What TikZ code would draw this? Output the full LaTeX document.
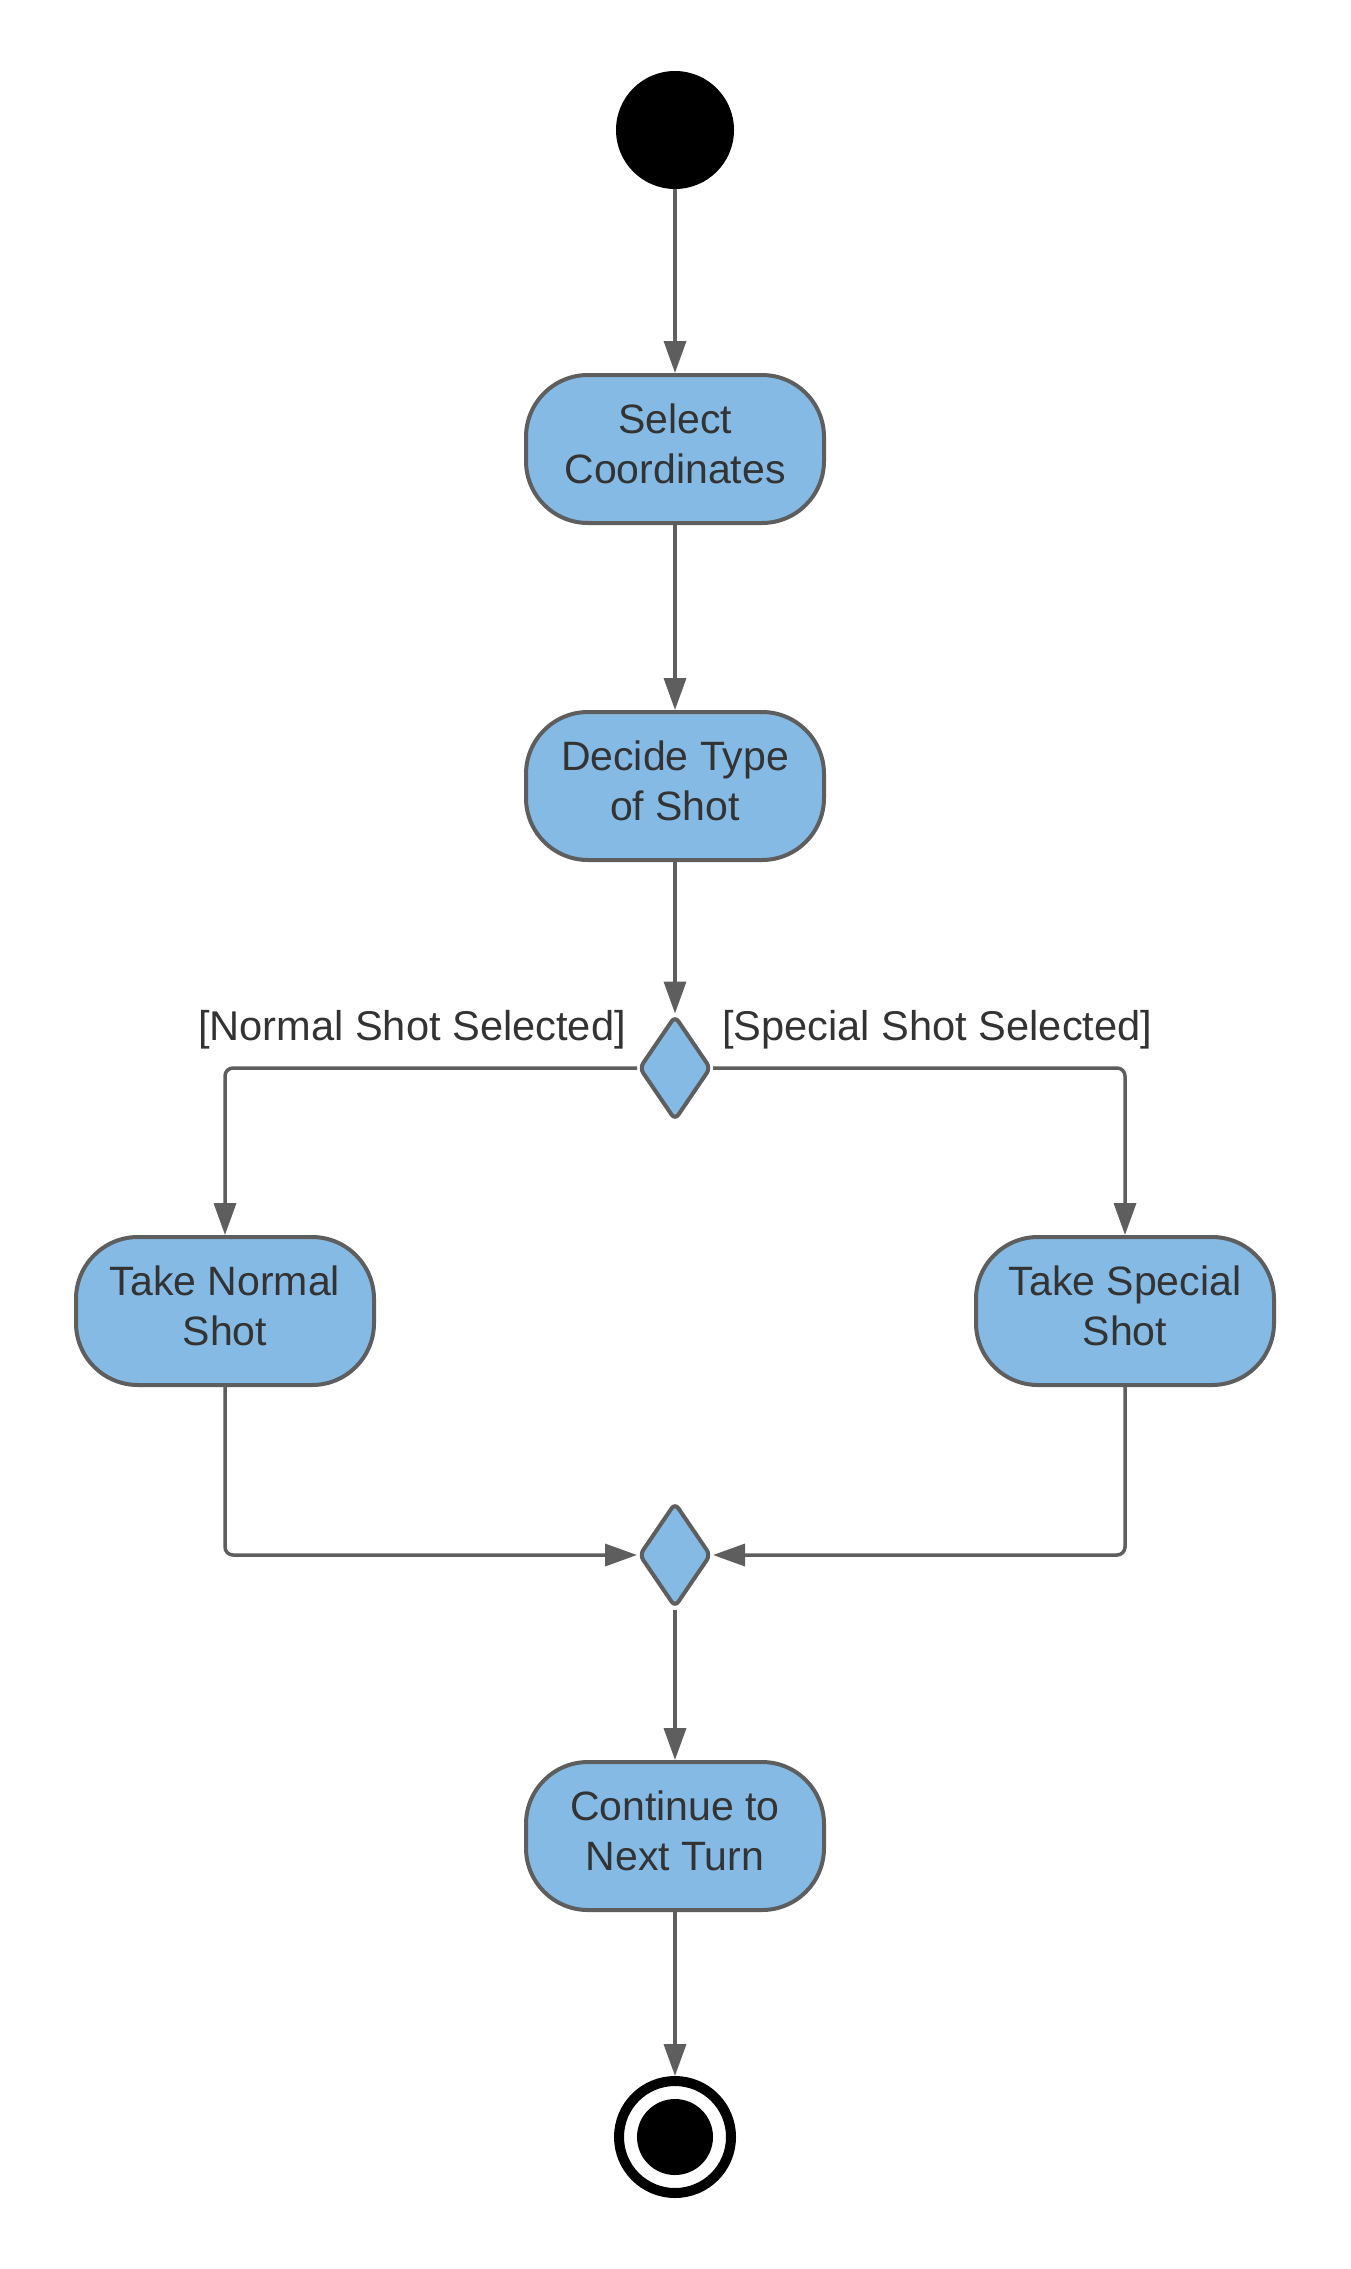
\documentclass[tikz,border=0pt]{standalone}
\usepackage{fontspec}
\setmainfont{Liberation Sans}
\usetikzlibrary{arrows.meta,shapes.geometric}
\definecolor{actfill}{HTML}{84BAE3}
\definecolor{edgegrey}{HTML}{5E5E5E}
\definecolor{txt}{HTML}{333333}
\newcommand\twolines[2]{\raisebox{1pt}[\height][\depth]{\begin{tabular}{@{}c@{}}#1\\#2\end{tabular}}}
\tikzset{
  act/.style={draw=edgegrey, fill=actfill, line width=4pt, rounded corners=62pt,
    minimum width=298pt, minimum height=148pt, align=center, text=txt,
    font=\fontsize{41}{50}\selectfont, inner sep=0pt},
  dec/.style={draw=edgegrey, fill=actfill, line width=4pt, diamond, inner sep=0pt,
    minimum width=72pt, minimum height=105pt, rounded corners=6pt},
  flow/.style={draw=edgegrey, line width=3.5pt, -{Triangle[length=32pt,width=22pt]}},
  branch/.style={flow, rounded corners=8pt},
  guard/.style={text=txt, font=\fontsize{41.6}{50}\selectfont, inner sep=0pt}
}
\begin{document}
\begin{tikzpicture}[x=1pt,y=-1pt]
\useasboundingbox (0,0) rectangle (1350,2269);
\node[circle, fill=black, minimum size=118pt, inner sep=0pt] (start) at (675,130) {};
\node[act] (select) at (675,449) {\twolines{Select}{Coordinates}};
\node[act] (decide) at (675,786) {\twolines{Decide Type}{of Shot}};
\node[dec] (d1) at (675,1068) {};
\node[act] (normal) at (225,1311) {\twolines{Take Normal}{Shot}};
\node[act] (special) at (1125,1311) {\twolines{Take Special}{Shot}};
\node[dec] (d2) at (675,1555) {};
\node[act] (cont) at (675,1836) {\twolines{Continue to}{Next Turn}};
\node[circle, draw=black, line width=10pt, minimum size=112pt, inner sep=0pt, outer sep=5pt] (endring) at (675,2137) {};
\node[circle, fill=black, minimum size=76pt, inner sep=0pt] (enddot) at (675,2137) {};
\node[guard, anchor=east] (lblnormal) at (626,1030) {[Normal Shot Selected]};
\node[guard, anchor=west] (lblspecial) at (722,1030) {[Special Shot Selected]};
\draw[flow] (start) -- (select);
\draw[flow] (select) -- (decide);
\draw[flow] (decide) -- (d1);
\draw[branch] (d1.west) -| (normal.north);
\draw[branch] (d1.east) -| (special.north);
\draw[branch] (normal.south) |- (d2.west);
\draw[branch] (special.south) |- (d2.east);
\draw[flow] (d2) -- (cont);
\draw[flow] (cont) -- (endring);
\end{tikzpicture}
\end{document}
